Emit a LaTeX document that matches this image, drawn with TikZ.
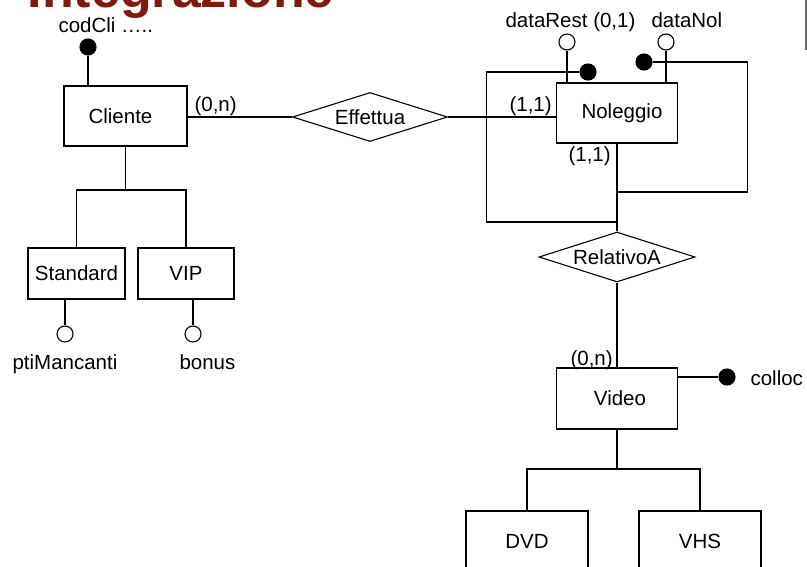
\documentclass[tikz,border=0pt]{standalone}
\usepackage{fontspec}
\setmainfont{Liberation Sans}
\usepackage{tikz}
\usetikzlibrary{shapes.geometric}
\usepackage{xcolor}
\definecolor{mTitle}{HTML}{7F1A0C}
\definecolor{mGrey}{HTML}{6B6B6B}

\begin{document}
\begin{tikzpicture}[x=1pt, y=-1pt, line width=1.1pt,
    font=\fontsize{20.5}{24}\selectfont,
    entity/.style={draw, rectangle, inner sep=0pt, minimum width=121pt, minimum height=60pt},
    subentity/.style={entity, minimum width=97pt, minimum height=51pt},
    relation/.style={draw, diamond, aspect=3.2, inner sep=0pt, minimum width=155pt, minimum height=49pt},
    attr/.style={draw, circle, inner sep=0pt, minimum size=16pt, fill=white},
    keyattr/.style={attr, fill=black},
    txt/.style={anchor=base west, inner sep=0pt}]
  \useasboundingbox (0,0) rectangle (807,567);
  \node[txt, font=\fontsize{52}{52}\selectfont\bfseries, text=mTitle] (title) at (27,8) {Integrazione};
  \draw[mGrey, line width=1.3pt] (806,0) -- (806,50);
  % entities and relationships
  \node[entity, minimum width=123pt, text depth=0pt] (cli) at (125.5,116) {\hspace*{-10pt}Cliente};
  \node[entity] (nol) at (617,113) {\hspace*{10pt}Noleggio};
  \node[subentity] (std) at (76.5,273.5) {Standard};
  \node[subentity, minimum width=96pt] (vip) at (186,273.5) {VIP};
  \node[entity, minimum height=61pt] (vid) at (617,398.5) {\hspace*{6pt}Video};
  \node[entity, minimum width=122pt] (dvd) at (527,541) {DVD};
  \node[entity, minimum width=122pt] (vhs) at (700,541) {VHS};
  \node[relation] (eff) at (370,117) {Effettua};
  \node[relation, minimum width=156pt, minimum height=50pt] (rel) at (617,257) {RelativoA};
  % attributes
  \node[keyattr] (kCli) at (88,47) {};
  \node[attr] (aRest) at (567,42) {};
  \node[attr] (aNol) at (666,42) {};
  \node[keyattr] (kA) at (588,72) {};
  \node[keyattr] (kB) at (644,62) {};
  \node[attr] (aPti) at (65,334) {};
  \node[attr] (aBon) at (193,334) {};
  \node[keyattr] (kCol) at (727,377) {};
  \node[txt] (tCli) at (58,33) {codCli …..};
  \node[txt] (tRest) at (505,28) {dataRest (0,1)};
  \node[txt] (tNol) at (651,28) {dataNol};
  \node[txt] (tPti) at (12,369) {ptiMancanti};
  \node[txt] (tBon) at (179,369) {bonus};
  \node[txt] (tCol) at (750,385) {colloc};
  % cardinalities
  \node[txt] (cCli) at (194,112) {(0,n)};
  \node[txt] (cNolA) at (509,112) {(1,1)};
  \node[txt] (cNolB) at (568,162) {(1,1)};
  \node[txt] (cVid) at (570,365) {(0,n)};
  % links
  \foreach \a/\e in {kCli/cli, aRest/nol, aNol/nol}
    \draw (\a.south) -- (\a |- \e.north);
  \foreach \a/\e in {aPti/std, aBon/vip}
    \draw (\a.north) -- (\a |- \e.south);
  \draw (kCol.west) -- (kCol -| vid.east);
  \draw (cli.east |- eff.west) -- (eff.west);
  \draw (eff.east) -- (eff.east -| nol.west);
  \draw (nol.south) -- (rel.north);
  \draw (rel.south) -- (vid.north);
  % external identifier of Noleggio
  \coordinate (jA) at (617,222);
  \coordinate (jB) at (617,192);
  \draw (kA.west) -- ++(-93,0) |- (jA);
  \draw (kB.east) -- ++(94.5,0) |- (jB);
  % generalizations
  \coordinate (gCli) at (125.5,190);
  \coordinate (gVid) at (617,469);
  \draw (cli.south) -- (gCli);
  \draw (std.north) |- (gCli) -| (vip.north);
  \draw (vid.south) -- (gVid);
  \draw (dvd.north) |- (gVid) -| (vhs.north);
\end{tikzpicture}
\end{document}
